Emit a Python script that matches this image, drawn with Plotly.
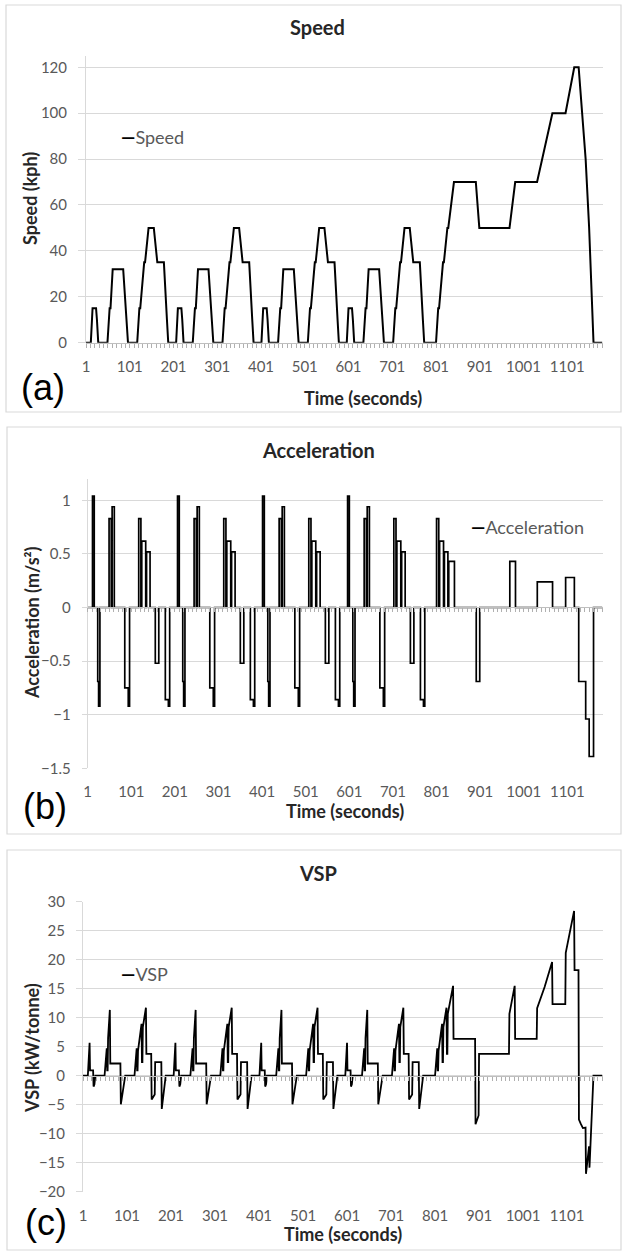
import plotly.graph_objects as go

W, H = 623, 1253

# ---------------- data (NEDC cycle) ----------------
# ECE-15 urban sub-cycle (repeated 4 times, 195 s each); time in seconds
ece_speed_t = [0, 11, 15, 23, 25, 28, 49, 54, 56, 61, 85, 93, 96, 117, 122, 124,
               133, 135, 143, 155, 163, 176, 178, 185, 188, 195]
ece_speed_v = [0, 0, 15, 15, 10, 0, 0, 15, 15, 32, 32, 10, 0, 0, 15, 15,
               35, 35, 50, 50, 35, 35, 35, 10, 0, 0]
# EUDC extra-urban sub-cycle
eudc_speed_t = [780, 800, 805, 807, 816, 818, 826, 828, 841, 891, 899, 968, 981,
                1031, 1066, 1096, 1116, 1126, 1142, 1150, 1160, 1180]
eudc_speed_v = [0, 0, 15, 15, 35, 35, 50, 50, 70, 70, 50, 50, 70,
                70, 100, 100, 120, 120, 80, 50, 0, 0]

# acceleration (m/s2), step values starting at given times
ece_acc_t = [0, 11, 15, 23, 25, 28, 49, 54, 56, 61, 85, 93, 96, 117, 122, 124,
             133, 135, 143, 155, 163, 178, 185, 188]
ece_acc_v = [0, 1.04, 0, -0.69, -0.92, 0, 0.83, 0, 0.94, 0, -0.75, -0.92, 0, 0.83, 0, 0.62,
             0, 0.52, 0, -0.52, 0, -0.86, -0.92, 0]
eudc_acc_t = [780, 800, 805, 807, 816, 818, 826, 828, 841, 891, 899, 968, 981,
              1031, 1066, 1096, 1116, 1126, 1142, 1150, 1160, 1180]
eudc_acc_v = [0, 0.83, 0, 0.62, 0, 0.52, 0, 0.43, 0, -0.69, 0, 0.43, 0,
              0.24, 0, 0.28, 0, -0.69, -1.04, -1.39, 0, 0]

# VSP (kW/tonne)
ece_vsp_t = [0, 11, 12, 15, 16, 23, 24, 25, 26, 28, 49, 50, 54, 55, 56, 57, 61, 62, 85, 86,
             93, 94, 96, 117, 118, 122, 123, 124, 125, 133, 134, 135, 136, 143, 144, 155,
             156, 163, 164, 178, 179, 185, 186, 188, 195]
ece_vsp_v = [0, 0, 1.41, 5.68, 0.91, 0.91, -1.88, -1.51, -1.48, 0, 0, 0.94, 4.71, 0.91, 0.91,
             6.44, 11.34, 2.10, 2.10, -4.93, -1.74, -1.49, 0, 0, 0.94, 4.71, 0.91, 0.91, 4.30,
             8.95, 2.35, 2.35, 8.37, 11.72, 3.76, 3.76, -4.10, -3.22, 2.35, 2.35, -5.74,
             -2.03, -1.48, 0, 0]
eudc_vsp_t = [780, 800, 801, 805, 806, 807, 808, 816, 817, 818, 819, 826, 827, 828, 829, 841,
              842, 891, 892, 899, 900, 968, 969, 981, 982, 1031, 1032, 1049, 1066, 1067, 1096,
              1097, 1116, 1117, 1126, 1127, 1131, 1136, 1142, 1143, 1150, 1151, 1160, 1180]
eudc_vsp_v = [0, 0, 0.94, 4.71, 0.91, 0.91, 4.30, 8.95, 2.35, 2.35, 8.37, 11.72, 3.76, 3.76,
              10.66, 15.49, 6.35, 6.35, -8.35, -6.85, 3.76, 3.76, 10.66, 15.49, 6.35, 6.35,
              11.64, 15.28, 19.62, 12.35, 12.35, 21.19, 28.41, 18.21, 18.21, -7.55, -8.28,
              -9.03, -8.95, -16.91, -12.16, -15.85, 0, 0]

ece_repeats = [0, 195, 390, 585]
x_label_vals = [1, 101, 201, 301, 401, 501, 601, 701, 801, 901, 1001, 1101]
x_label_text = [str(v) for v in x_label_vals]


def full(ece_t, ece_v, eudc_t, eudc_v):
    xs, ys = [], []
    for off in ece_repeats:
        xs += [t + off + 1 for t in ece_t]   # category index = time + 1
        ys += list(ece_v)
    xs += [t + 1 for t in eudc_t]
    ys += list(eudc_v)
    return xs, ys


sp_x, sp_y = full(ece_speed_t, ece_speed_v, eudc_speed_t, eudc_speed_v)
ac_x, ac_y = full(ece_acc_t, ece_acc_v, eudc_acc_t, eudc_acc_v)
vs_x, vs_y = full(ece_vsp_t, ece_vsp_v, eudc_vsp_t, eudc_vsp_v)


# ---------------- layout helpers ----------------
def fx(x):
    return x / W


def fy(y):
    return 1 - y / H


FONT = "Lato"
GRID = "#d9d9d9"
TICKC = "#595959"
TITLEC = "#262626"
XR = [1, 1182]

panels = [
    dict(x0=86, x1=602.7, top=55.8, bot=342.7, yr=[0, 125], yt=[0, 20, 40, 60, 80, 100, 120],
         zero=342.7, ytl=7),
    dict(x0=87.7, x1=602.7, top=478.9, bot=768.3, yr=[-1.5, 1.2], yt=[-1.5, -1, -0.5, 0, 0.5, 1],
         zero=607.3, ytl=5),
    dict(x0=83, x1=602.7, top=901.7, bot=1191.7, yr=[-20, 30],
         yt=[-20, -15, -10, -5, 0, 5, 10, 15, 20, 25, 30], zero=1075.7, ytl=6),
]

fig = go.Figure()
series = [(sp_x, sp_y, "Speed", 2.0, "linear"),
          (ac_x, ac_y, "Acceleration", 1.7, "hv"),
          (vs_x, vs_y, "VSP", 1.8, "linear")]

layout = dict(width=W, height=H, margin=dict(l=0, r=0, t=0, b=0, pad=0, autoexpand=False),
              template="none",
              paper_bgcolor="white", plot_bgcolor="white", showlegend=False,
              font=dict(family=FONT, color=TICKC))

for i, (p, s) in enumerate(zip(panels, series)):
    n = i + 1
    xa = "x" if n == 1 else f"x{n}"
    ya = "y" if n == 1 else f"y{n}"
    xo = f"x{n + 3}"
    fig.add_trace(go.Scatter(x=s[0], y=s[1], mode="lines", name=s[2],
                             line=dict(color="black", width=s[3], shape=s[4]),
                             xaxis=xa, yaxis=ya))
    # helper invisible trace so the tick axis at zero is drawn
    fig.add_trace(go.Scatter(x=[XR[0]], y=[p["yr"][0]], mode="markers",
                             marker=dict(opacity=0), hoverinfo="skip",
                             xaxis=xo, yaxis=ya))
    xd = [fx(p["x0"]), fx(p["x1"])]
    yd = [fy(p["bot"]), fy(p["top"])]
    layout["xaxis" if n == 1 else f"xaxis{n}"] = dict(
        domain=xd, range=XR, anchor=ya, showgrid=False, zeroline=False, showline=False,
        automargin=False,
        tickmode="array", tickvals=x_label_vals, ticktext=x_label_text,
        ticks="outside", ticklen=4, tickcolor="rgba(0,0,0,0)", ticklabelstandoff=6,
        tickfont=dict(size=15, color=TICKC, family=FONT))
    layout[f"xaxis{n + 3}"] = dict(
        domain=xd, range=XR, overlaying=xa, anchor="free", position=fy(p["zero"]),
        automargin=False,
        showgrid=False, zeroline=False, showline=True, linecolor="#bfbfbf", linewidth=1,
        tickmode="array", tickvals=list(range(1, 1182, 10)), ticks="outside", ticklen=4,
        tickcolor="#b0b0b0", tickwidth=1, showticklabels=False)
    layout["yaxis" if n == 1 else f"yaxis{n}"] = dict(
        domain=yd, range=p["yr"], anchor=xa, showgrid=True, gridcolor=GRID, gridwidth=1,
        automargin=False,
        zeroline=False, showline=True, linecolor=GRID, linewidth=1,
        tickmode="array", tickvals=p["yt"], ticks="outside", ticklen=p["ytl"],
        tickcolor=GRID, ticklabelstandoff=8,
        tickfont=dict(size=15, color=TICKC, family=FONT))

# frames around the three charts
frames = [(6, 5, 621, 412), (7, 427, 621, 834), (7, 850, 621, 1250)]
shapes = [dict(type="rect", xref="paper", yref="paper", x0=fx(a), y0=fy(b), x1=fx(c), y1=fy(d),
               line=dict(color="#d9d9d9", width=1.2), fillcolor="rgba(0,0,0,0)", layer="below")
          for a, b, c, d in frames]
layout["shapes"] = shapes


def ann(text, x, y, size, bold=False, color=TITLEC, angle=0, xanchor="center", family=FONT):
    t = f"<b>{text}</b>" if bold else text
    return dict(text=t, x=fx(x), y=fy(y), xref="paper", yref="paper", showarrow=False,
                xanchor=xanchor, yanchor="middle", textangle=angle,
                font=dict(size=size, color=color, family=family))


DASH = '<span style="color:#000000"><b>—</b></span>'
anns = [
    ann("Speed", 317, 27, 20, True),
    ann("Acceleration", 318, 450, 20, True),
    ann("VSP", 318, 873, 20, True),
    ann("Speed (kph)", 30, 199, 18, True, angle=-90),
    ann("Acceleration (m/s²)", 32, 623, 18, True, angle=-90),
    ann("VSP (kW/tonne)", 32, 1048, 18, True, angle=-90),
    ann("Time (seconds)", 363, 398, 18, True),
    ann("Time (seconds)", 345, 811, 18, True),
    ann("Time (seconds)", 343, 1234, 18, True),
    ann("(a)", 42.5, 388, 36, color="black", family="Liberation Sans"),
    ann("(b)", 45, 806, 36, color="black", family="Liberation Sans"),
    ann("(c)", 46, 1222, 36, color="black", family="Liberation Sans"),
    ann(DASH + "Speed", 119, 137, 18, color=TICKC, xanchor="left"),
    ann(DASH + "Acceleration", 469, 527, 18, color=TICKC, xanchor="left"),
    ann(DASH + "VSP", 119, 974, 18, color=TICKC, xanchor="left"),
]
layout["annotations"] = anns

fig.update_layout(**layout)
fig.write_html("out.html", config={"displayModeBar": False},
               post_script="document.body.style.margin='0px';document.body.style.overflow='hidden';")
